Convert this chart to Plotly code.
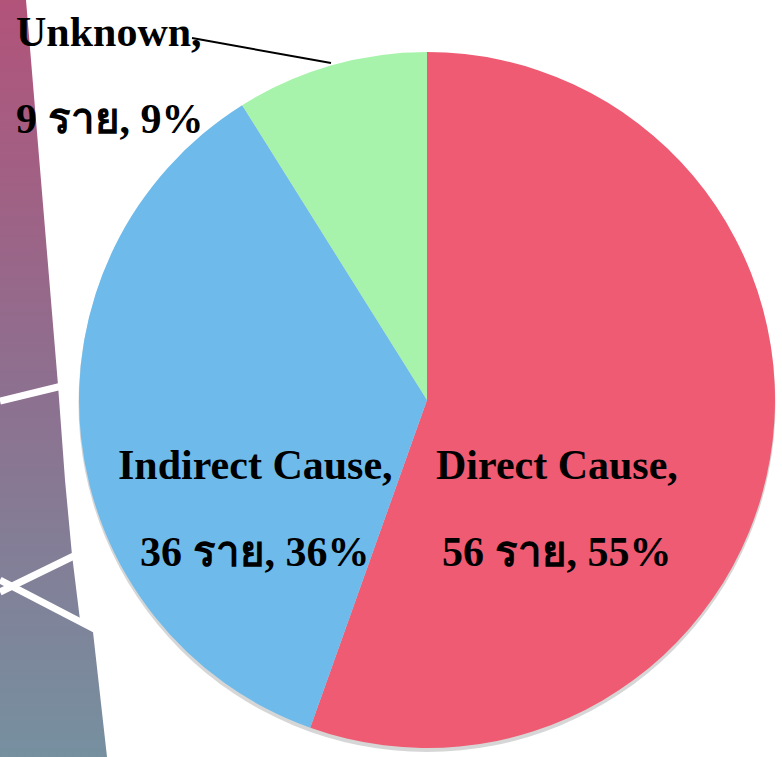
import plotly.graph_objects as go

# ---- data ----
categories = ["Direct Cause", "Indirect Cause", "Unknown"]
counts = [56, 36, 9]
unit = "ราย"
colors = ["#EF5B72", "#6EBBEB", "#A7F3AB"]

W, H = 782, 757
total = sum(counts)
pcts = [round(c / total * 100) for c in counts]

fig = go.Figure()

# ---- decorative slide background (left strip) ----
bg_x = [0, 26, 58, 65, 72, 80, 93, 107, 0, 0]
bg_y = [0, 0, 385, 480, 555, 620, 632, 757, 757, 0]
fig.add_trace(go.Scatter(
    x=bg_x, y=bg_y, mode="lines", fill="toself",
    line=dict(width=0, color="rgba(0,0,0,0)"),
    fillgradient=dict(type="vertical", start=0, stop=757,
                      colorscale=[[0, "#B2537A"], [0.5, "#8E6F8F"], [1, "#7690A0"]]),
    hoverinfo="skip", showlegend=False))
for lx, ly in [([0, 62], [401, 386]), ([0, 80], [592, 553]), ([0, 100], [580, 632])]:
    fig.add_trace(go.Scatter(x=lx, y=ly, mode="lines",
                             line=dict(color="white", width=7),
                             hoverinfo="skip", showlegend=False))

# ---- pie geometry ----
cx, cy, r = 427, 400, 348
dom_x = [(cx - r) / W, (cx + r) / W]
dom_y = [(H - (cy + r)) / H, (H - (cy - r)) / H]
off = 4 / H

# soft shadow
fig.add_trace(go.Pie(values=[1], marker=dict(colors=["rgba(0,0,0,0.16)"], line=dict(width=0, color="rgba(0,0,0,0)")),
                     textinfo="none", hoverinfo="skip", showlegend=False, sort=False,
                     domain=dict(x=[dom_x[0] - 1 / W, dom_x[1] + 1 / W], y=[dom_y[0] - off, dom_y[1] - off + 1 / H])))

fig.add_trace(go.Pie(
    labels=categories, values=counts, sort=False, direction="clockwise", rotation=0,
    marker=dict(colors=colors, line=dict(width=0, color="rgba(0,0,0,0)")),
    textinfo="none", showlegend=False,
    domain=dict(x=dom_x, y=dom_y)))

font = dict(family="Liberation Serif, Times New Roman, serif", size=42, color="black")

def lab(x, y, text, anchor="center"):
    fig.add_annotation(x=x, y=y, xref="x", yref="y", text=f"<b>{text}</b>", showarrow=False,
                       xanchor=anchor, yanchor="middle", font=font)

lab(557, 465, f"{categories[0]},")
lab(557, 552, f"{counts[0]} {unit}, {pcts[0]}%")
lab(255, 465, f"{categories[1]},")
lab(255, 552, f"{counts[1]} {unit}, {pcts[1]}%")
lab(14, 32, f"{categories[2]},", anchor="left")
lab(14, 119, f"{counts[2]} {unit}, {pcts[2]}%", anchor="left")

# leader line for Unknown
fig.add_shape(type="line", xref="x", yref="y", x0=192, y0=38, x1=331, y1=63,
              line=dict(color="black", width=2))

fig.update_layout(
    width=W, height=H, margin=dict(l=0, r=0, t=0, b=0),
    paper_bgcolor="white", plot_bgcolor="rgba(0,0,0,0)",
    xaxis=dict(range=[0, W], visible=False, fixedrange=True),
    yaxis=dict(range=[H, 0], visible=False, fixedrange=True),
)

fig.write_html("out.html", config={"displayModeBar": False},
               post_script="document.body.style.margin='0';document.body.style.overflow='hidden';")
